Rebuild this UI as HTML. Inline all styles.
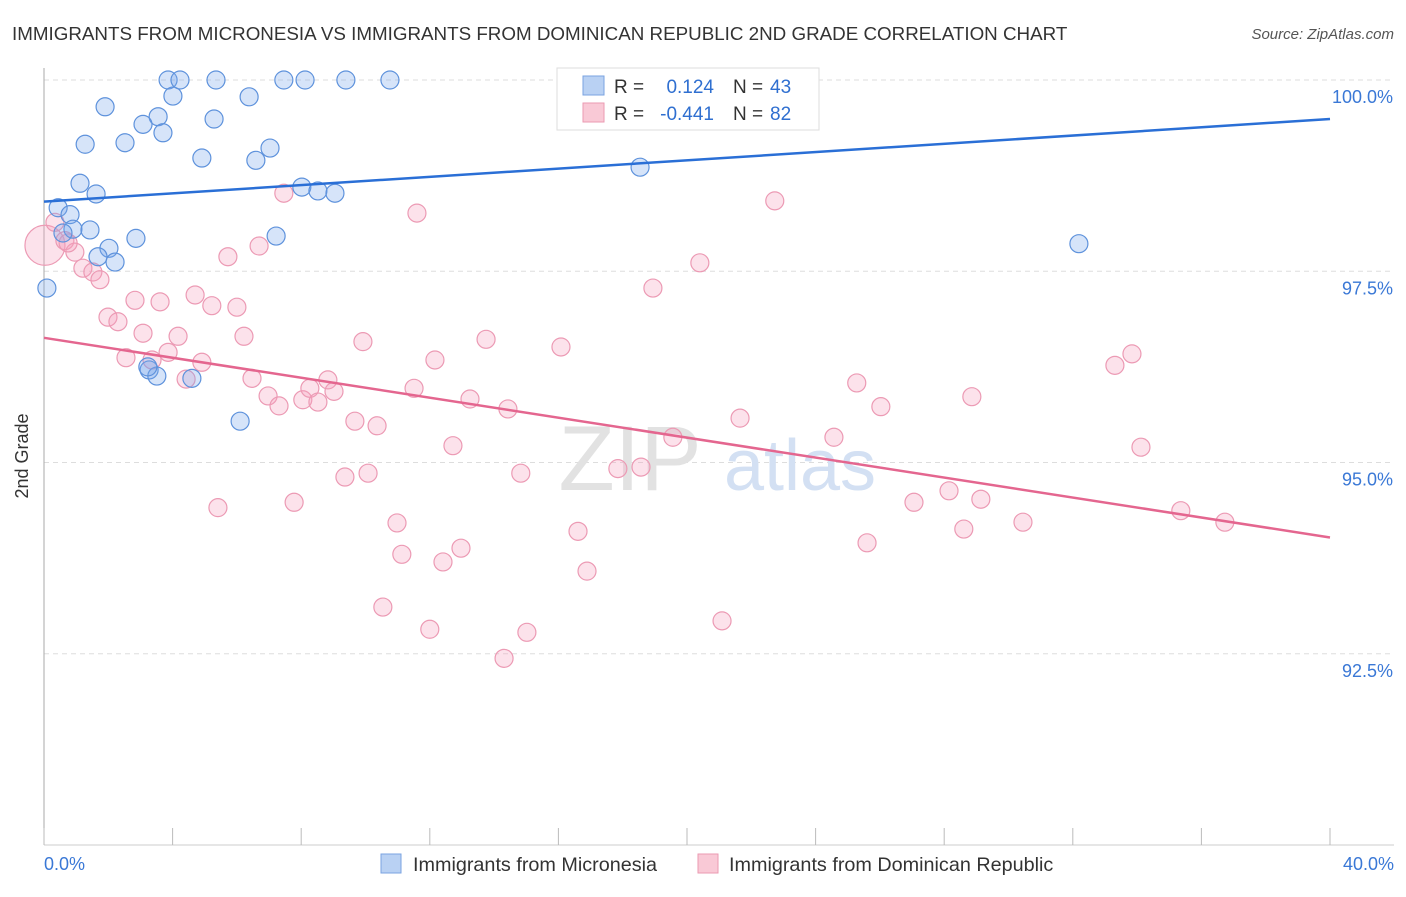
<!DOCTYPE html>
<html><head><meta charset="utf-8"><style>
body{margin:0;background:#fff;font-family:"Liberation Sans",sans-serif;}
svg text{font-family:"Liberation Sans",sans-serif;}
</style></head><body>
<svg id="chart" width="1406" height="892">
<text x="12" y="40" font-size="18.8" fill="#333">IMMIGRANTS FROM MICRONESIA VS IMMIGRANTS FROM DOMINICAN REPUBLIC 2ND GRADE CORRELATION CHART</text>
<text x="1394" y="39" font-size="15" fill="#555" text-anchor="end" font-style="italic">Source: ZipAtlas.com</text>
<text x="28" y="456" font-size="18" fill="#333" text-anchor="middle" transform="rotate(-90 28 456)">2nd Grade</text>
<g id="grid"></g>
<text x="630" y="490" font-size="92" fill="#e2e2e2" text-anchor="middle" font-family="Liberation Serif">ZIP</text>
<text x="800" y="490" font-size="72" fill="#d3e0f3" text-anchor="middle">atlas</text>
<g id="marks"></g>
<g>
<rect x="557" y="68" width="262" height="62" fill="#fff" stroke="#ddd"/>
<rect x="583" y="76" width="21" height="19" fill="#b9d1f3" stroke="#7aa3e0"/>
<rect x="583" y="103" width="21" height="19" fill="#f9c9d6" stroke="#eb9ab2"/>
<text x="614" y="93" font-size="19" fill="#333">R =</text>
<text x="714" y="93" font-size="19" fill="#2f6fd0" text-anchor="end">0.124</text>
<text x="733" y="93" font-size="19" fill="#333">N =</text>
<text x="770" y="93" font-size="19" fill="#2f6fd0">43</text>
<text x="614" y="120" font-size="19" fill="#333">R =</text>
<text x="714" y="120" font-size="19" fill="#2f6fd0" text-anchor="end">-0.441</text>
<text x="733" y="120" font-size="19" fill="#333">N =</text>
<text x="770" y="120" font-size="19" fill="#2f6fd0">82</text>
</g>
<g>
<rect x="381" y="854" width="20" height="19" fill="#b9d1f3" stroke="#7aa3e0"/>
<text x="413" y="871" font-size="19.8" fill="#333">Immigrants from Micronesia</text>
<rect x="698" y="854" width="20" height="19" fill="#f9c9d6" stroke="#eb9ab2"/>
<text x="729" y="871" font-size="19.8" fill="#333">Immigrants from Dominican Republic</text>
</g>
</svg>
<script>
const blueX=[3.86,4.23,5.35,7.46,8.12,9.39,10.76,1.90,4.01,6.38,3.55,3.08,5.29,3.70,1.28,2.52,4.91,6.59,7.03,1.12,1.62,8.02,8.52,9.05,18.54,0.44,0.81,0.90,0.59,1.43,2.86,2.02,7.22,1.68,2.21,0.09,3.27,3.51,3.23,4.60,6.10,32.19];
const blueY=[100,100,100,100,100,100,100,99.65,99.79,99.78,99.52,99.42,99.49,99.31,99.16,99.18,98.98,98.95,99.11,98.65,98.51,98.60,98.55,98.52,98.86,98.33,98.24,98.05,98.0,98.04,97.93,97.80,97.96,97.69,97.62,97.28,96.21,96.13,96.25,96.10,95.54,97.86];
const pinkX=[0.03,0.34,0.65,0.96,0.75,1.21,1.52,1.74,1.99,2.30,2.83,3.61,4.70,5.22,6.00,3.08,4.17,2.55,3.36,3.86,4.91,6.22,5.72,6.69,7.46,11.60,22.73,20.40,18.94,6.47,4.42,6.97,7.31,8.05,8.27,8.52,8.83,9.02,9.92,12.16,13.75,16.08,11.51,13.25,14.43,9.67,10.36,12.72,14.83,9.36,10.08,5.41,7.78,10.98,11.13,12.41,12.97,16.61,16.89,10.54,12.00,14.31,15.02,17.85,18.57,19.56,21.09,21.65,24.57,25.28,26.03,25.60,27.06,28.15,28.61,29.14,28.86,30.45,33.31,33.84,34.12,35.36,36.73];
const pinkY=[97.84,98.14,97.90,97.75,97.87,97.54,97.49,97.39,96.90,96.84,97.12,97.10,97.19,97.05,97.03,96.69,96.65,96.37,96.34,96.44,96.31,96.65,97.69,97.83,98.52,98.26,98.42,97.61,97.28,96.10,96.09,95.87,95.74,95.82,95.97,95.79,96.08,95.93,96.58,96.34,96.61,96.51,95.97,95.83,95.70,95.54,95.48,95.22,94.86,94.81,94.86,94.41,94.48,94.21,93.80,93.70,93.88,94.10,93.58,93.11,92.82,92.44,92.78,94.92,94.94,95.33,92.93,95.58,95.33,96.04,95.73,93.95,94.48,94.63,94.13,94.52,95.86,94.22,96.27,96.42,95.20,94.37,94.22];
const blueTrend=[98.41,99.49];
const pinkTrend=[96.63,94.02];
const yTicks=[100,97.5,95,92.5];
const yTickLabels=["100.0%","97.5%","95.0%","92.5%"];
const xTicks=[0,4,8,12,16,20,24,28,32,36,40];
const xLabels=["0.0%","40.0%"];

const X=v=>44+v/40*1286, Y=v=>80+(100-v)*76.5;
const NS="http://www.w3.org/2000/svg";
const grid=document.getElementById('grid'), marks=document.getElementById('marks');
function mk(tag,attrs,parent){const e=document.createElementNS(NS,tag);for(const k in attrs)e.setAttribute(k,attrs[k]);parent.appendChild(e);return e;}
yTicks.forEach((t,i)=>{
  const l=mk('line',{x1:44,x2:1394,y1:Y(t),y2:Y(t),stroke:'#ddd','stroke-dasharray':'5,4'},grid);
  
  
  const tx=mk('text',{x:1393,y:Y(t)+23,'font-size':18,fill:'#3a78d6','text-anchor':'end'},grid);
  tx.textContent=yTickLabels[i];
  
  
});
const ax=mk('line',{x1:44,x2:44,y1:68,y2:845,stroke:'#aaa'},grid);


const bx=mk('line',{x1:44,x2:1394,y1:845,y2:845,stroke:'#ccc'},grid);


xTicks.forEach(t=>{
  const l=mk('line',{x1:X(t),x2:X(t),y1:828,y2:845,stroke:'#bbb'},grid);
  
  
});
[[0,'start',44],[40,'end',1394]].forEach((d,i)=>{
  const tx=mk('text',{x:d[2],y:870,'font-size':18,fill:'#3a78d6','text-anchor':d[1]},grid);
  tx.textContent=xLabels[i];
  
  
});
pinkX.forEach((v,i)=>{
  const c=mk('circle',{cx:X(v),cy:Y(pinkY[i]),r:i===0?20:9,fill:'rgba(244,160,188,0.3)',stroke:'#ec9ab4','stroke-width':1.2},marks);
  
  
});
blueX.forEach((v,i)=>{
  const c=mk('circle',{cx:X(v),cy:Y(blueY[i]),r:9,fill:'rgba(120,165,235,0.3)',stroke:'#5e92dc','stroke-width':1.2},marks);
  
  
});
const bt=mk('line',{x1:X(0),y1:Y(blueTrend[0]),x2:X(40),y2:Y(blueTrend[1]),stroke:'#2a6fd6','stroke-width':2.5},marks);


const pt=mk('line',{x1:X(0),y1:Y(pinkTrend[0]),x2:X(40),y2:Y(pinkTrend[1]),stroke:'#e4668f','stroke-width':2.5},marks);


</script>
</body></html>
